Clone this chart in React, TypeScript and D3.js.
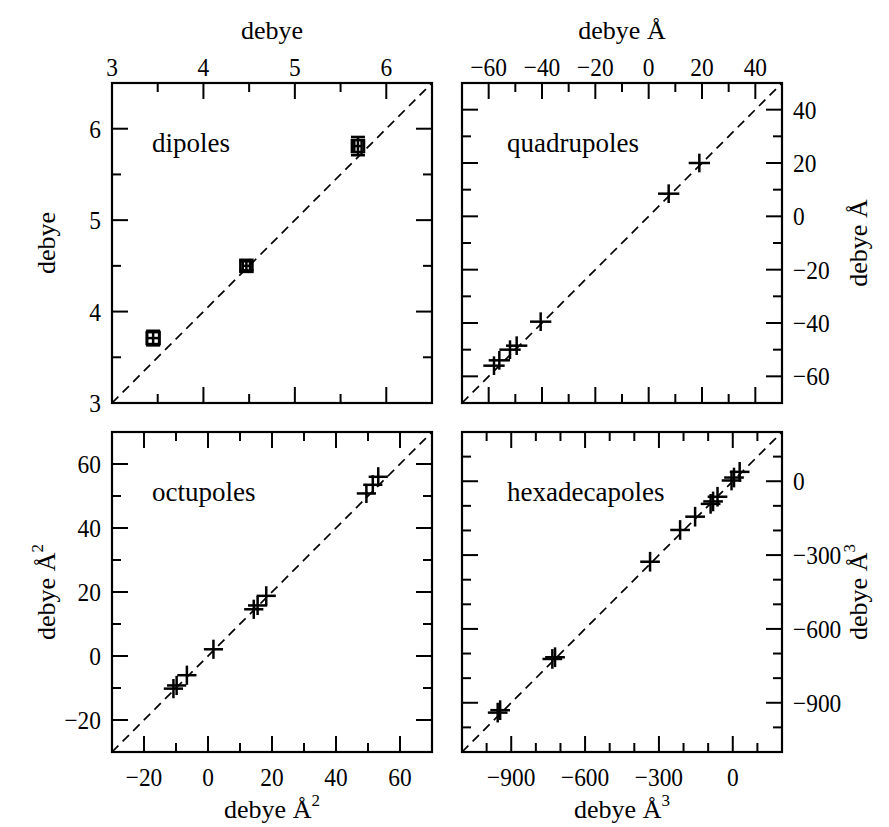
import React, { useRef, useEffect } from 'react';
import * as d3 from 'd3';

// dipoles (debye)
const dipoleX = [3.45, 4.47, 5.69];
const dipoleY = [3.71, 4.5, 5.81];
const dipoleDX = [0.07, 0.04, 0.04];
const dipoleDY = [0.08, 0.05, 0.1];

// quadrupoles (debye Å)
const quadX = [-58, -56, -52, -49.5, -40.5, 7.5, 19];
const quadY = [-56, -54, -50, -48.5, -39.5, 8.5, 20];
const quadDX = [4, 4, 4, 4, 4, 4, 4];
const quadDY = [3.5, 3.5, 3.5, 3.5, 3.5, 3.5, 3.5];

// octupoles (debye Å^2)
const octX = [-10.8, -9.8, -6.6, 1.7, 14.3, 15.5, 18.2, 49.5, 51.5, 53.2];
const octY = [-10.2, -9.2, -6.0, 2.1, 14.6, 15.8, 18.8, 50.8, 53.5, 56.0];
const octDX = [3, 3, 3, 3, 3, 3, 3, 3, 3, 3];
const octDY = [3, 3, 3, 3, 3, 3, 3, 3, 3, 3];

// hexadecapoles (debye Å^3)
const hexX = [-955, -945, -733, -722, -336, -214, -153, -90, -80, -62, -5, 5, 28];
const hexY = [-940, -930, -722, -715, -327, -198, -144, -92, -82, -63, 3, 15, 38];
const hexDX = [40, 40, 40, 40, 40, 40, 40, 40, 40, 40, 40, 40, 40];
const hexDY = [40, 40, 40, 40, 40, 40, 40, 40, 40, 40, 40, 40, 40];

// axes
const dipoleDomain = [3, 6.5];
const dipoleMajor = [3, 4, 5, 6];
const dipoleMinor = [3.5, 4.5, 5.5];
const quadDomain = [-70, 50];
const quadMajor = [-60, -40, -20, 0, 20, 40];
const quadMinor = [-50, -30, -10, 10, 30];
const octDomain = [-30, 70];
const octMajor = [-20, 0, 20, 40, 60];
const octMinor = [-10, 10, 30, 50];
const hexDomain = [-1100, 200];
const hexMajor = [-900, -600, -300, 0];
const hexMinor = [-1000, -800, -700, -500, -400, -200, -100, 100];

const SIZE = 320;
const FONT = "'Liberation Serif', 'Times New Roman', serif";
const fmt = (v: number) => (v < 0 ? '\u2212' + Math.abs(v) : String(v));

const App = () => {
  const svgRef = useRef<SVGSVGElement>(null);

  useEffect(() => {
    if (!svgRef.current) return;
    const svg = d3.select(svgRef.current);
    svg.selectAll('*').remove();

    const drawPanel = (p: any) => {
      const g = svg.append('g').attr('transform', `translate(${p.left},${p.top})`);
      const x = d3.scaleLinear().domain(p.domain).range([0, SIZE]);
      const y = d3.scaleLinear().domain(p.domain).range([SIZE, 0]);

      // diagonal y = x
      g.append('line')
        .attr('x1', x(p.domain[0])).attr('y1', y(p.domain[0]))
        .attr('x2', x(p.domain[1])).attr('y2', y(p.domain[1]))
        .attr('stroke', '#000').attr('stroke-width', 1.7)
        .attr('stroke-dasharray', '9,6');

      // ticks on all four sides
      const ticks = [
        ...p.major.map((v: number) => ({ v, len: 16 })),
        ...p.minor.map((v: number) => ({ v, len: 9 })),
      ];
      const tg = g.append('g').attr('stroke', '#000').attr('stroke-width', 2);
      ticks.forEach((t: any) => {
        const px = x(t.v), py = y(t.v);
        tg.append('line').attr('x1', px).attr('x2', px).attr('y1', 0).attr('y2', t.len);
        tg.append('line').attr('x1', px).attr('x2', px).attr('y1', SIZE).attr('y2', SIZE - t.len);
        tg.append('line').attr('y1', py).attr('y2', py).attr('x1', 0).attr('x2', t.len);
        tg.append('line').attr('y1', py).attr('y2', py).attr('x1', SIZE).attr('x2', SIZE - t.len);
      });

      g.append('rect')
        .attr('width', SIZE).attr('height', SIZE)
        .attr('fill', 'none').attr('stroke', '#000').attr('stroke-width', 2.2);

      // tick labels (slightly condensed, as in the original)
      const lab = g.append('g').attr('font-family', FONT).attr('font-size', 26).attr('fill', '#000');
      const tickText = (tx: number, tyy: number, anchor: string, v: number, mid = false) => {
        lab.append('text')
          .attr('transform', `translate(${tx},${tyy}) scale(0.9,1)`)
          .attr('dy', mid ? '0.35em' : null)
          .attr('text-anchor', anchor)
          .text(fmt(v));
      };
      p.major.forEach((v: number) => {
        if (p.xSide === 'top') tickText(x(v), -7, 'middle', v);
        else tickText(x(v), SIZE + 34, 'middle', v);
        if (p.ySide === 'left') tickText(-11, y(v), 'end', v, true);
        else tickText(SIZE + 11, y(v), 'start', v, true);
      });

      // axis titles
      const addTitle = (sel: any) => {
        sel.append('tspan').text(p.unit);
        if (p.power) sel.append('tspan').attr('font-size', 17).attr('dy', -12).text(p.power);
      };
      const xt = lab.append('text').attr('x', SIZE / 2).attr('text-anchor', 'middle')
        .attr('y', p.xSide === 'top' ? -44 : SIZE + 66);
      addTitle(xt);
      const ty = p.ySide === 'left' ? -57 : SIZE + 85;
      const yt = lab.append('text')
        .attr('transform', `translate(${ty},${SIZE / 2}) rotate(-90)`)
        .attr('text-anchor', 'middle');
      addTitle(yt);

      // panel name
      lab.append('text').attr('x', p.nameX).attr('y', 69).attr('font-size', 27).text(p.name);

      // error bar markers
      const cap = p.cap;
      p.xs.forEach((xv: number, i: number) => {
        const cx = x(xv), cy = y(p.ys[i]);
        const ex = x(xv + p.dxs[i]) - cx;
        const ey = cy - y(p.ys[i] + p.dys[i]);
        const m = g.append('g').attr('stroke', '#000').attr('stroke-width', 2.5).attr('fill', 'none');
        m.append('line').attr('x1', cx - ex).attr('x2', cx + ex).attr('y1', cy).attr('y2', cy);
        m.append('line').attr('x1', cx).attr('x2', cx).attr('y1', cy - ey).attr('y2', cy + ey);
        if (cap > 0) {
          m.append('line').attr('x1', cx - ex).attr('x2', cx - ex).attr('y1', cy - cap / 2).attr('y2', cy + cap / 2);
          m.append('line').attr('x1', cx + ex).attr('x2', cx + ex).attr('y1', cy - cap / 2).attr('y2', cy + cap / 2);
          m.append('line').attr('x1', cx - cap / 2).attr('x2', cx + cap / 2).attr('y1', cy - ey).attr('y2', cy - ey);
          m.append('line').attr('x1', cx - cap / 2).attr('x2', cx + cap / 2).attr('y1', cy + ey).attr('y2', cy + ey);
        }
        if (p.square) {
          m.append('rect').attr('x', cx - 6).attr('y', cy - 6).attr('width', 12).attr('height', 12)
            .attr('stroke-width', 2.6);
        }
      });
    };

    drawPanel({
      left: 112, top: 83, domain: dipoleDomain, major: dipoleMajor, minor: dipoleMinor,
      xSide: 'top', ySide: 'left', unit: 'debye', power: '', name: 'dipoles', nameX: 40,
      xs: dipoleX, ys: dipoleY, dxs: dipoleDX, dys: dipoleDY, cap: 14, square: true,
    });
    drawPanel({
      left: 462, top: 83, domain: quadDomain, major: quadMajor, minor: quadMinor,
      xSide: 'top', ySide: 'right', unit: 'debye Å', power: '', name: 'quadrupoles', nameX: 45,
      xs: quadX, ys: quadY, dxs: quadDX, dys: quadDY, cap: 0, square: false,
    });
    drawPanel({
      left: 112, top: 432, domain: octDomain, major: octMajor, minor: octMinor,
      xSide: 'bottom', ySide: 'left', unit: 'debye Å', power: '2', name: 'octupoles', nameX: 40,
      xs: octX, ys: octY, dxs: octDX, dys: octDY, cap: 0, square: false,
    });
    drawPanel({
      left: 462, top: 432, domain: hexDomain, major: hexMajor, minor: hexMinor,
      xSide: 'bottom', ySide: 'right', unit: 'debye Å', power: '3', name: 'hexadecapoles', nameX: 45,
      xs: hexX, ys: hexY, dxs: hexDX, dys: hexDY, cap: 0, square: false,
    });
  }, []);

  return (
    <svg ref={svgRef} width={889} height={827} viewBox="0 0 889 827"
      style={{ position: 'absolute', left: 0, top: 0, background: '#fff' }} />
  );
};

export default App;
